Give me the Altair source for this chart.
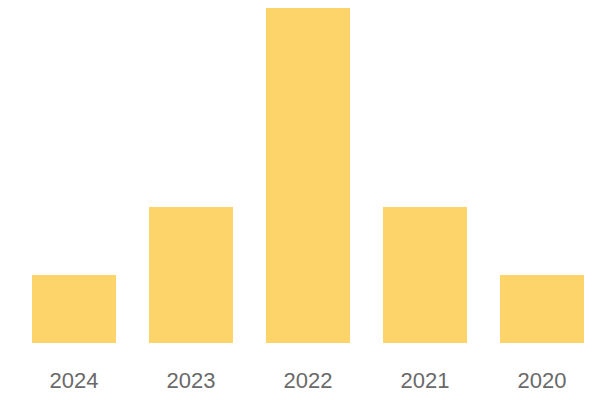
import altair as alt
import pandas as pd

years = ["2024", "2023", "2022", "2021", "2020"]
values = [1, 2, 5, 2, 1]

df = pd.DataFrame({"year": years, "value": values})

chart = (
    alt.Chart(df)
    .mark_bar(color="#FDD46A")
    .encode(
        x=alt.X(
            "year:N",
            sort=years,
            scale=alt.Scale(paddingInner=0.282, paddingOuter=0),
            axis=alt.Axis(
                title=None,
                ticks=False,
                domain=False,
                labelAngle=0,
                labelFont="Liberation Sans",
                labelFontSize=22,
                labelColor="#6a6a6a",
                labelBaseline="alphabetic",
                labelPadding=44,
            ),
        ),
        y=alt.Y(
            "value:Q",
            scale=alt.Scale(domain=[0, 335 / 68], nice=False, zero=True),
            axis=None,
        ),
    )
    .properties(
        width=552,
        height=335,
        padding={"left": 24, "top": 0, "right": 8, "bottom": 55},
        autosize=alt.AutoSizeParams(type="none"),
    )
    .configure_view(stroke=None)
)

chart.save("out.html", embed_options={"renderer": "svg", "actions": False})
